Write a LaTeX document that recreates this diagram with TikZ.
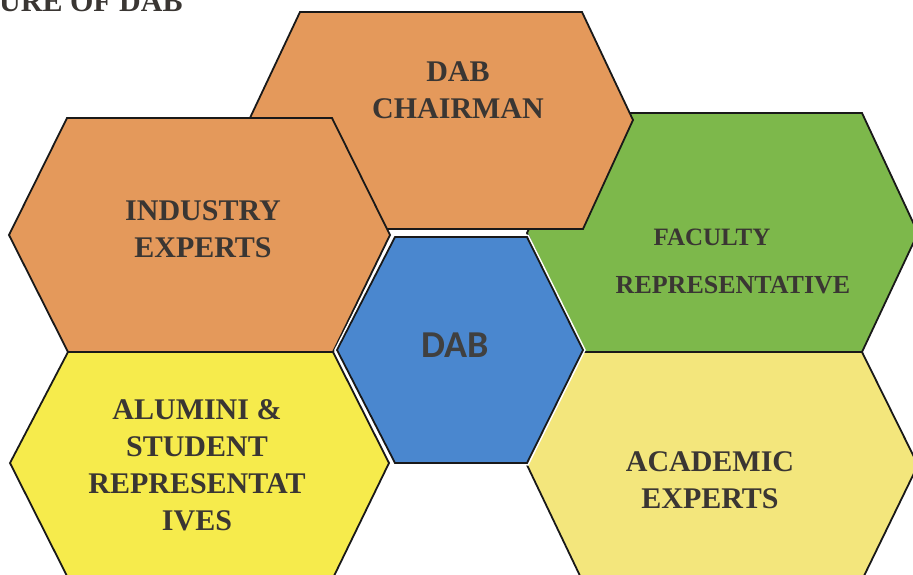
\documentclass[tikz,border=0pt]{standalone}
\usepackage{fontspec}
\setmainfont{Liberation Serif}
\newfontfamily\dabfont{Carlito}
\definecolor{dorange}{HTML}{E4995B}
\definecolor{dgreen}{HTML}{7DB84B}
\definecolor{dblue}{HTML}{4A87CF}
\definecolor{dyellow}{HTML}{F6EB4C}
\definecolor{dpale}{HTML}{F3E67C}
\definecolor{dink}{HTML}{3A3633}
\begin{document}
\begin{tikzpicture}[x=1pt,y=-1pt,
  cell/.style={draw=black!90, line width=1.8pt, line join=miter},
  lbl/.style={font=\bfseries\fontsize{30}{37}\selectfont, text=dink, align=center, inner sep=0pt}]
\useasboundingbox (0,0) rectangle (913,574);
\clip (0,0) rectangle (913,574);
% title, cut at the top
\node[anchor=base west, inner sep=0pt, font=\bfseries\fontsize{30}{36}\selectfont, text=dink] (title) at (-1,11) {URE OF DAB};
% hexagons
\draw[cell, fill=dgreen] (582,113) -- (862,113) -- (918,233) -- (862,352) -- (582,352) -- (527,233) -- cycle;
\draw[cell, fill=dorange] (300,12) -- (582,12) -- (633,120) -- (583,229) -- (300,229) -- (249,120) -- cycle;
\draw[cell, fill=dorange] (67,118) -- (332,118) -- (390,235) -- (333,352) -- (68,352) -- (9,235) -- cycle;
\draw[cell, fill=dpale] (582,352) -- (862,352) -- (918,465) -- (862,580) -- (582,580) -- (527,465) -- cycle;
\draw[cell, fill=dyellow] (68,352) -- (333,352) -- (389,463) -- (333,578) -- (68,578) -- (10,463) -- cycle;
\draw[white, line width=5pt, line join=miter] (395,237) -- (527,237) -- (583,350) -- (527,463) -- (395,463) -- (337,350) -- cycle;
\draw[cell, fill=dblue] (395,237) -- (527,237) -- (583,350) -- (527,463) -- (395,463) -- (337,350) -- cycle;
% labels
\node[lbl] (chair) at (458,90) {DAB\\CHAIRMAN};
\node[lbl] (industry) at (203,229) {INDUSTRY\\EXPERTS};
\node[lbl, font=\bfseries\fontsize{25}{30}\selectfont] (faculty) at (712,237) {FACULTY};
\node[lbl, font=\bfseries\fontsize{26}{30}\selectfont] (rep) at (733,285) {REPRESENTATIVE};
\node[lbl, font=\dabfont\bfseries\fontsize{38}{40}\selectfont, text=black!75] (dab) at (455,345) {DAB};
\node[lbl] (alumni) at (197,465) {ALUMINI \&\\STUDENT\\REPRESENTAT\\IVES};
\node[lbl] (academic) at (710,480) {ACADEMIC\\EXPERTS};
\end{tikzpicture}
\end{document}
